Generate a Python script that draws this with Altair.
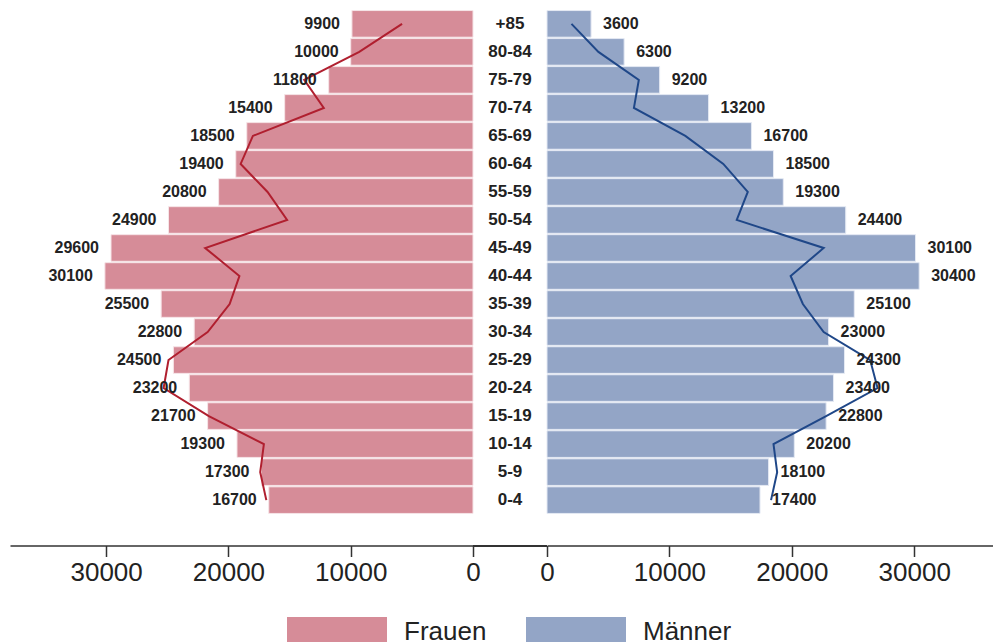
import altair as alt
import pandas as pd

ages = ["0-4", "5-9", "10-14", "15-19", "20-24", "25-29", "30-34", "35-39", "40-44",
        "45-49", "50-54", "55-59", "60-64", "65-69", "70-74", "75-79", "80-84", "+85"]
frauen = [16700, 17300, 19300, 21700, 23200, 24500, 22800, 25500, 30100,
          29600, 24900, 20800, 19400, 18500, 15400, 11800, 10000, 9900]
maenner = [17400, 18100, 20200, 22800, 23400, 24300, 23000, 25100, 30400,
           30100, 24400, 19300, 18500, 16700, 13200, 9200, 6300, 3600]
frauen_linie = [16900, 17400, 17100, 21600, 25300, 24900, 21700, 19900, 19100,
                21900, 15200, 16800, 19000, 18000, 12200, 13800, 9300, 5800]
maenner_linie = [18300, 18800, 18500, 22800, 27000, 26400, 22600, 20900, 19900,
                 22600, 15500, 16400, 14400, 11300, 7100, 7500, 4200, 2000]
sexes = ["Frauen", "Männer"]
ticks = [0, 10000, 20000, 30000]

df = pd.DataFrame({
    "age": ages,
    "idx": list(range(len(ages))),
    "frauen": frauen,
    "maenner": maenner,
    "frauen_linie": frauen_linie,
    "maenner_linie": maenner_linie,
})

FONT = "Liberation Sans"
RED = "#d68c98"
BLUE = "#93a5c6"
H = 504
OFF = 31.5

ys = alt.Scale(domain=list(reversed(ages)), paddingInner=0.05, paddingOuter=0.02)
cs = alt.Scale(domain=sexes, range=[RED, BLUE])
leg = alt.Legend(
    orient="none", legendX=277, legendY=572, direction="horizontal", title=None,
    symbolType="M-1,-0.3H1V0.3H-1Z", symbolSize=10000, symbolOpacity=1,
    symbolStrokeWidth=0, labelFontSize=26, labelFont=FONT, labelColor="#222",
    labelOffset=17, columnPadding=39, labelLimit=300,
)

def xaxis():
    return alt.Axis(values=ticks, format="d", offset=OFF, title=None, grid=False,
                    labelFlush=False, labelOverlap=False)

base = alt.Chart(df)

xl = alt.Scale(domain=[0, 37860], reverse=True, nice=False, zero=False)
left_bars = base.transform_calculate(sex="'Frauen'").mark_bar(
    stroke="#f6e4e7", strokeWidth=1, opacity=1
).encode(
    x=alt.X("frauen:Q", scale=xl, axis=xaxis()),
    y=alt.Y("age:N", scale=ys, axis=None),
    color=alt.Color("sex:N", scale=cs, legend=leg),
)
left_text = base.mark_text(align="right", baseline="middle", dx=-12, fontSize=16,
                           fontWeight="bold", font=FONT, color="#222").encode(
    x=alt.X("frauen:Q", scale=xl),
    y=alt.Y("age:N", scale=ys, axis=None),
    text=alt.Text("frauen:Q", format="d"),
)
left_line = base.mark_line(color="#b01f2f", strokeWidth=2).encode(
    x=alt.X("frauen_linie:Q", scale=xl),
    y=alt.Y("age:N", scale=ys, axis=None),
    order=alt.Order("idx:Q"),
)
left = alt.layer(left_bars, left_line, left_text).properties(width=463, height=H)

mid_text = base.mark_text(align="center", baseline="middle", fontSize=17,
                          fontWeight="bold", font=FONT, color="#222").encode(
    x=alt.value(37),
    y=alt.Y("age:N", scale=ys, axis=None),
    text="age:N",
)
mid_rule = base.mark_rule(color="#333", strokeWidth=1.5).encode(
    x=alt.value(0), x2=alt.value(74), y=alt.value(H + OFF + 0.5)
)
middle = alt.layer(mid_text, mid_rule).properties(width=74, height=H)

xr = alt.Scale(domain=[0, 36430], nice=False, zero=False)
right_bars = base.transform_calculate(sex="'Männer'").mark_bar(
    stroke="#e4e9f3", strokeWidth=1, opacity=1
).encode(
    x=alt.X("maenner:Q", scale=xr, axis=xaxis()),
    y=alt.Y("age:N", scale=ys, axis=None),
    color=alt.Color("sex:N", scale=cs, legend=leg),
)
right_text = base.mark_text(align="left", baseline="middle", dx=12, fontSize=16,
                            fontWeight="bold", font=FONT, color="#222").encode(
    x=alt.X("maenner:Q", scale=xr),
    y=alt.Y("age:N", scale=ys, axis=None),
    text=alt.Text("maenner:Q", format="d"),
)
right_line = base.mark_line(color="#1f4788", strokeWidth=2).encode(
    x=alt.X("maenner_linie:Q", scale=xr),
    y=alt.Y("age:N", scale=ys, axis=None),
    order=alt.Order("idx:Q"),
)
right = alt.layer(right_bars, right_line, right_text).properties(width=446, height=H)

chart = alt.hconcat(left, middle, right, spacing=0, bounds="flush").resolve_scale(
    x="independent", y="shared", color="shared"
).properties(
    padding={"left": 2, "top": 2, "right": 0, "bottom": 0}
).configure_view(stroke=None).configure_axis(
    domainColor="#333", domainWidth=1.5, tickColor="#333", tickWidth=1.5,
    tickSize=11, labelFontSize=26, labelFont=FONT, labelColor="#222",
    labelPadding=3,
)

chart.save("out.html", embed_options={"renderer": "svg", "actions": False})
